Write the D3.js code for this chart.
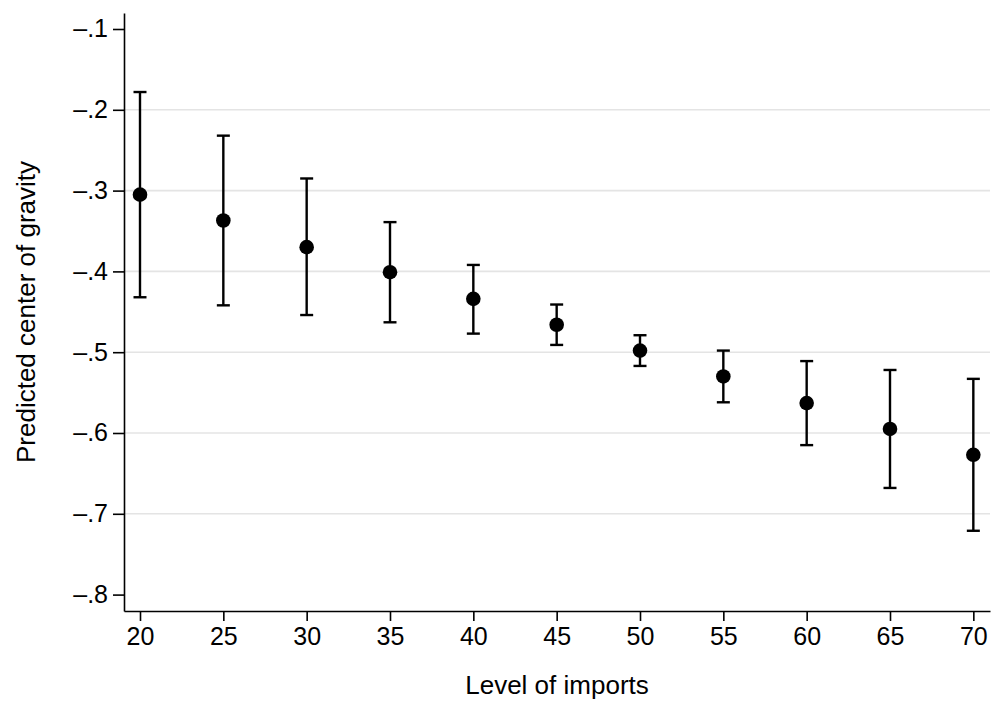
<!DOCTYPE html>
<html>
<head>
<meta charset="utf-8">
<script src="https://cdn.jsdelivr.net/npm/d3@7"></script>
<style>
  body { margin: 0; background: #fff; }
  text { font-family: "Liberation Sans", Arial, Helvetica, sans-serif; fill: #000; }
</style>
</head>
<body>
<div class="canvas"></div>
<script>
const imports = [20, 25, 30, 35, 40, 45, 50, 55, 60, 65, 70]
const predicted = [-0.305, -0.337, -0.370, -0.401, -0.434, -0.466, -0.498, -0.530, -0.563, -0.595, -0.627]
const upper = [-0.178, -0.232, -0.285, -0.339, -0.392, -0.441, -0.479, -0.498, -0.511, -0.522, -0.533]
const lower = [-0.432, -0.442, -0.454, -0.463, -0.477, -0.491, -0.517, -0.562, -0.615, -0.668, -0.721]
const yTicks = [-0.1, -0.2, -0.3, -0.4, -0.5, -0.6, -0.7, -0.8]
const xTicks = [20, 25, 30, 35, 40, 45, 50, 55, 60, 65, 70]

const dim = { width: 1000, height: 702 }
const m = { left: 124, right: 990, top: 13, bottom: 611 }

const svg = d3.select(".canvas").append("svg")
  .attr("width", dim.width).attr("height", dim.height)

const x = d3.scaleLinear().domain([19.04, 71]).range([m.left, m.right])
const y = d3.scaleLinear().domain([-0.8203, -0.0802]).range([m.bottom, m.top])

const fmt = v => v.toFixed(1).replace("-0", "\u2013")

// gridlines (not at the extreme ticks)
svg.append("g").selectAll("line")
  .data(yTicks.filter(t => t !== -0.1 && t !== -0.8))
  .enter().append("line")
  .attr("x1", m.left).attr("x2", m.right)
  .attr("y1", d => y(d)).attr("y2", d => y(d))
  .attr("stroke", "#e4e4e4").attr("stroke-width", 1.6)

const yAxis = svg.append("g").attr("transform", `translate(${m.left},0)`)
  .call(d3.axisLeft(y).tickValues(yTicks).tickFormat(fmt).tickSize(11).tickPadding(5).tickSizeOuter(0))
const xAxis = svg.append("g").attr("transform", `translate(0,${m.bottom})`)
  .call(d3.axisBottom(x).tickValues(xTicks).tickSize(10).tickPadding(6).tickSizeOuter(0))

;[yAxis, xAxis].forEach(a => {
  a.attr("font-size", null).attr("font-family", null)
  a.select(".domain").attr("stroke", "#000").attr("stroke-width", 1.6)
  a.selectAll(".tick line").attr("stroke", "#000").attr("stroke-width", 1.6)
  a.selectAll("text").style("font-size", "25px").attr("fill", "#000")
})

const data = imports.map((d, i) => ({ x: d, y: predicted[i], hi: upper[i], lo: lower[i] }))
const capW = 6.5
const bars = svg.append("g").attr("stroke", "#000").attr("stroke-width", 2.4)
bars.selectAll(".stem").data(data).enter().append("line")
  .attr("x1", d => x(d.x)).attr("x2", d => x(d.x))
  .attr("y1", d => y(d.hi)).attr("y2", d => y(d.lo))
bars.selectAll(".capHi").data(data).enter().append("line")
  .attr("x1", d => x(d.x) - capW).attr("x2", d => x(d.x) + capW)
  .attr("y1", d => y(d.hi)).attr("y2", d => y(d.hi))
bars.selectAll(".capLo").data(data).enter().append("line")
  .attr("x1", d => x(d.x) - capW).attr("x2", d => x(d.x) + capW)
  .attr("y1", d => y(d.lo)).attr("y2", d => y(d.lo))

svg.append("g").selectAll("circle").data(data).enter().append("circle")
  .attr("cx", d => x(d.x)).attr("cy", d => y(d.y)).attr("r", 7.3)
  .attr("fill", "#000")

svg.append("text").attr("x", 557).attr("y", 694)
  .attr("text-anchor", "middle").style("font-size", "26px").text("Level of imports")

svg.append("text").attr("transform", `translate(35,${(m.top + m.bottom) / 2}) rotate(-90)`)
  .attr("text-anchor", "middle").style("font-size", "26px").text("Predicted center of gravity")
</script>
</body>
</html>
